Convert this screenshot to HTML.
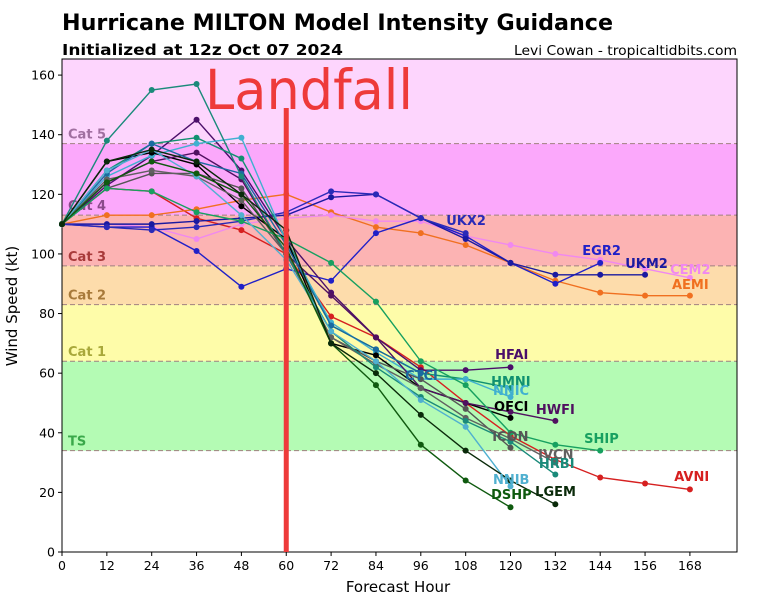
<!DOCTYPE html>
<html><head><meta charset="utf-8"><style>
body{margin:0;background:#fff;width:768px;height:600px;overflow:hidden}
svg{display:block}
text{font-family:"DejaVu Sans","Liberation Sans",sans-serif}
</style></head><body>
<svg id="chart" width="768" height="600" xmlns="http://www.w3.org/2000/svg">
<text x="62" y="30" font-size="22" font-weight="bold" textLength="551" lengthAdjust="spacingAndGlyphs">Hurricane MILTON Model Intensity Guidance</text>
<text x="62" y="55" font-size="15" font-weight="bold" textLength="281" lengthAdjust="spacingAndGlyphs">Initialized at 12z Oct 07 2024</text>
<text x="737" y="55" font-size="13" text-anchor="end" textLength="223" lengthAdjust="spacingAndGlyphs">Levi Cowan - tropicaltidbits.com</text>
<g id="bands"></g><g id="grid"></g><g id="lines"></g><g id="labels"></g>
<text x="398" y="592" font-size="15" text-anchor="middle">Forecast Hour</text>
<text x="17" y="306" font-size="15" text-anchor="middle" transform="rotate(-90 17 306)">Wind Speed (kt)</text>
</svg>
<script>
const hours=[0,12,24,36,48,60,72,84,96,108,120,132,144,156,168];
const yTicks=[0,20,40,60,80,100,120,140,160];
const catNames=["TS","Cat 1","Cat 2","Cat 3","Cat 4","Cat 5"];
const catLow=[34,64,83,96,113,137];
const catHigh=[64,83,96,113,137,166];
const catFill=["#b4fbb4","#fefca9","#fddcab","#fcb3b3","#fba8fb","#fdd5fd"];
const catText=["#3aa84a","#a8a83a","#a87a3a","#a83a3a","#8a4a8a","#a070a0"];
const modelNames=["AVNI","AEMI","CEM2","EGR2","UKM2","UKX2","HFAI","HMNI","NNIC","OFCI","HWFI","CTCI","ICON","IVCN","HRBI","SHIP","NNIB","DSHP","LGEM"];
const modelColors=["#d62020","#f07020","#f088f0","#2020c8","#1a1aa0","#2a2ab8","#4b0f6a","#109070","#40b0d0","#000000","#501060","#1a6aa0","#555555","#606060","#1a8a7a","#17a060","#50b0d0","#0f5a0f","#0a2a0a"];
const mAVNI=[110,122,121,112,108,100,79,72,62,50,39,31,25,23,21];
const mAEMI=[110,113,113,115,118,120,114,109,107,103,97,91,87,86,86];
const mCEM2=[110,110,109,105,110,112,113,111,111,106,103,100,98,95,92];
const mEGR2=[110,109,109,101,89,95,91,107,112,106,97,90,97];
const mUKM2=[110,110,110,111,112,113,119,120,112,105,97,93,93,93];
const mUKX2=[110,109,108,109,111,114,121,120,112,107];
const mHFAI=[110,123,133,145,128,105,87,72,61,61,62];
const mHMNI=[110,128,137,139,132,105,76,68,60,58,55];
const mNNIC=[110,126,133,137,139,104,77,67,58,58,52];
const mOFCI=[110,131,134,130,116,105,70,66,55,50,45];
const mHWFI=[110,124,131,134,125,100,86,72,55,50,47,44];
const mCTCI=[110,127,137,131,127,103,76,68,60];
const mICON=[110,122,127,127,122,100,72,64,58,48,35];
const mIVCN=[110,125,128,126,118,100,72,63,55,45,38,30];
const mHRBI=[110,138,155,157,126,100,74,62,52,44,37,26];
const mSHIP=[110,122,121,114,111,105,97,84,64,56,40,36,34];
const mNNIB=[110,128,135,126,113,98,74,64,51,42,22];
const mDSHP=[110,124,131,127,120,102,70,56,36,24,15];
const mLGEM=[110,131,135,131,120,108,70,60,46,34,24,16];
const modelValues=[mAVNI,mAEMI,mCEM2,mEGR2,mUKM2,mUKX2,mHFAI,mHMNI,mNNIC,mOFCI,mHWFI,mCTCI,mICON,mIVCN,mHRBI,mSHIP,mNNIB,mDSHP,mLGEM];
const labelHour=[163.8,163.2,162.7,139.2,150.7,102.8,115.9,114.8,115.3,115.6,126.8,91.8,115.1,127.4,127.6,139.7,115.3,114.8,126.6];
const labelKt=[23.8,88.3,93.3,99.7,95.3,109.7,64.8,55.7,52.7,47.3,46.3,57.7,37.2,31.2,28.2,36.6,22.8,17.8,18.8];
const landfallHour=60;

const X0=62,X1=737,Y0=552,Y1=59,XMAX=180.6,YMAX=165.4;
const sx=h=>X0+h/XMAX*(X1-X0);
const sy=v=>Y0-v/YMAX*(Y0-Y1);
const NS="http://www.w3.org/2000/svg";
function mk(tag,attrs,parent,txt){const e=document.createElementNS(NS,tag);for(const k in attrs)e.setAttribute(k,attrs[k]);if(txt!==undefined)e.textContent=txt;parent.appendChild(e);return e;}
const bands=document.getElementById('bands'),grid=document.getElementById('grid'),lines=document.getElementById('lines'),labels=document.getElementById('labels');
catNames.forEach((c,i)=>{
  const top=Math.min(catHigh[i],YMAX);
  const r=mk('rect',{x:X0,y:sy(top),width:X1-X0,height:sy(catLow[i])-sy(top),fill:catFill[i]},bands);
  
  
  const l=mk('line',{x1:X0,x2:X1,y1:sy(catLow[i]),y2:sy(catLow[i]),stroke:'#a08080','stroke-dasharray':'5,3','stroke-width':1},bands);
  
  
  const t=mk('text',{x:68,y:sy(catLow[i])-5,'font-size':13,'font-weight':'bold',fill:catText[i]},bands,c);
  
  
});
const frame=mk('rect',{x:X0,y:Y1,width:X1-X0,height:Y0-Y1,fill:'none',stroke:'#000','stroke-width':1},grid);


hours.forEach(h=>{
  mk('line',{x1:sx(h),x2:sx(h),y1:Y0,y2:Y0+4,stroke:'#000'},grid);
  const t=mk('text',{x:sx(h),y:Y0+18,'font-size':12.5,'text-anchor':'middle'},grid,h);
  
  
});
yTicks.forEach(v=>{
  mk('line',{x1:X0-4,x2:X0,y1:sy(v),y2:sy(v),stroke:'#000'},grid);
  const t=mk('text',{x:X0-7,y:sy(v)+4.5,'font-size':12.5,'text-anchor':'end'},grid,v);
  
  
});
const lt=mk('text',{x:205,y:109,'font-size':55,fill:'#ee3a3a',textLength:208,lengthAdjust:'spacingAndGlyphs'},grid,'Landfall');


modelNames.forEach((n,i)=>{
  const vals=modelValues[i];
  const pts=vals.map((v,j)=>sx(hours[j])+','+sy(v)).join(' ');
  const g=mk('g',{},lines);
  
  
  mk('polyline',{points:pts,fill:'none',stroke:modelColors[i],'stroke-width':1.4},g);
  vals.forEach((v,j)=>{
    const c=mk('circle',{cx:sx(hours[j]),cy:sy(v),r:3,fill:modelColors[i]},g);
    
    
  });
  const t=mk('text',{x:sx(labelHour[i]),y:sy(labelKt[i]),'font-size':13,'font-weight':'bold',fill:modelColors[i]},labels,n);
  
  
});
const lf=mk('rect',{x:sx(landfallHour)-2.5,y:108,width:5,height:Y0-108,fill:'#ee3a3a'},labels);


</script>
</body></html>
